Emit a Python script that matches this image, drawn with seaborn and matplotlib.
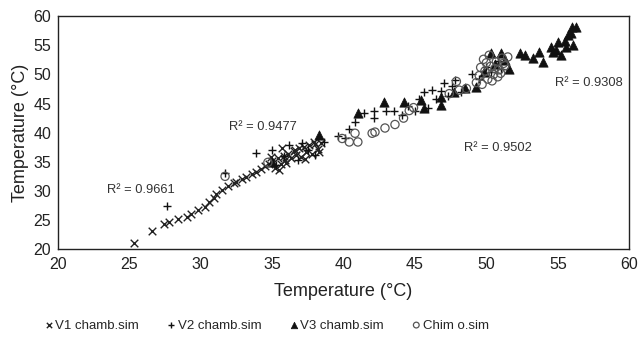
import numpy as np
import pandas as pd
import matplotlib
matplotlib.use("Agg")
import matplotlib.pyplot as plt
import seaborn as sns

# ==========================================
# データ (読み取り値)
# ==========================================
v1_x = [25.3, 26.6, 27.4, 27.8, 28.4, 29.0, 29.3, 29.8, 30.3, 30.6, 30.9, 31.1,
        31.5, 31.9, 32.3, 32.5, 32.9, 33.2, 33.6, 33.9, 34.2, 34.5, 34.8, 35.0,
        35.2, 35.4, 35.6, 35.8, 35.9, 36.1, 36.3, 36.5, 36.7, 36.9, 37.0, 37.2,
        37.4, 37.6, 37.8, 38.0, 38.2, 38.4, 35.5, 36.0, 36.6, 37.3, 37.9, 38.3,
        34.9, 35.7]
v1_y = [21.0, 23.1, 24.3, 24.7, 25.1, 25.6, 26.0, 26.7, 27.3, 28.1, 28.7, 29.5,
        30.1, 30.8, 31.3, 31.6, 32.0, 32.4, 32.9, 33.3, 33.8, 34.3, 34.7, 35.2,
        34.0, 35.7, 34.6, 36.0, 35.3, 36.4, 35.6, 36.9, 36.2, 37.3, 35.8, 37.6,
        36.7, 37.9, 36.3, 38.0, 37.2, 38.3, 33.6, 34.8, 37.0, 35.4, 38.4, 36.6,
        35.9, 37.4]

v2_x = [27.6, 31.7, 33.9, 35.0, 35.3, 35.8, 36.2, 36.8, 37.1, 37.5, 38.0, 38.6,
        39.6, 40.1, 40.4, 40.8, 41.4, 42.1, 42.1, 43.0, 43.5, 44.1, 44.5, 45.0,
        45.3, 45.6, 45.9, 46.2, 46.5, 46.8, 47.0, 47.3, 47.6, 47.8, 48.2, 49.0,
        49.5, 50.0, 50.3, 50.8, 51.0]
v2_y = [27.4, 33.0, 36.5, 37.0, 34.4, 36.0, 37.8, 35.3, 38.2, 37.0, 36.2, 38.4,
        39.5, 39.0, 40.6, 41.8, 43.3, 43.8, 42.6, 43.8, 43.8, 43.0, 44.6, 43.8,
        45.7, 46.9, 44.3, 47.4, 45.8, 47.2, 48.5, 46.3, 48.1, 49.0, 47.0, 50.1,
        49.3, 51.2, 50.4, 52.3, 51.0]

v3_x = [35.0, 38.3, 41.0, 42.8, 44.2, 45.4, 45.6, 46.8, 46.8, 47.7, 48.5, 49.3,
        49.8, 50.3, 50.6, 51.0, 51.3, 51.6, 52.35, 52.7, 53.3, 53.7, 54.0, 54.5,
        54.7, 55.2, 55.0, 55.5, 55.7, 56.0, 56.3, 55.6, 56.1, 55.9, 54.9]
v3_y = [34.9, 39.6, 43.3, 45.2, 45.2, 45.6, 44.2, 44.7, 46.1, 46.9, 47.6, 47.8,
        50.5, 53.6, 51.8, 53.6, 52.4, 51.0, 53.6, 53.4, 52.8, 53.8, 52.2, 54.7,
        53.8, 53.3, 55.5, 55.8, 56.7, 58.1, 58.1, 54.7, 55.0, 57.2, 54.2]

chim_x = [31.7, 34.7, 39.9, 40.4, 41.0, 40.8, 42.0, 42.2, 42.9, 43.6, 44.2,
          44.6, 44.9, 47.4, 47.9, 48.1, 48.6, 49.3, 49.5, 49.7, 49.9, 50.1, 50.3,
          50.5, 50.7, 50.9, 51.1, 51.3, 51.5, 49.6, 50.0, 50.4, 50.8, 51.2, 49.8,
          50.2, 50.6, 51.0]
chim_y = [32.5, 34.9, 39.0, 38.4, 38.4, 39.9, 39.9, 40.1, 40.8, 41.4, 42.5,
          43.8, 44.3, 46.7, 48.8, 47.3, 47.6, 48.6, 49.8, 48.3, 50.6, 49.2, 51.4,
          50.0, 52.2, 50.8, 52.8, 51.5, 53.0, 51.2, 52.0, 48.9, 49.6, 51.9, 52.6,
          53.3, 51.0, 50.2]

r2_labels = ["R² = 0.9661", "R² = 0.9477", "R² = 0.9502", "R² = 0.9308"]
r2_pos = [(23.4, 30.1), (32.0, 40.9), (48.4, 37.3), (54.8, 48.5)]

# ==========================================
# 描画
# ==========================================
sns.set_style("white")
plt.rcParams['font.family'] = ['Liberation Sans', 'DejaVu Sans']

fig = plt.figure(figsize=(6.41, 3.38), dpi=100)
ax = fig.add_axes([0.0905, 0.263, 0.891, 0.689])

sns.scatterplot(x=v1_x, y=v1_y, marker='x', s=30, color='#222222',
                linewidth=1.0, ax=ax, label='V1 chamb.sim')
sns.scatterplot(x=v2_x, y=v2_y, marker='+', s=40, color='#111111',
                linewidth=1.0, ax=ax, label='V2 chamb.sim')
sns.scatterplot(x=v3_x, y=v3_y, marker='^', s=45, color='#111111',
                edgecolor='#111111', linewidth=0.5, ax=ax, label='V3 chamb.sim')
sns.scatterplot(x=chim_x, y=chim_y, marker='o', s=35, facecolor='none',
                edgecolor='#555555', linewidth=0.9, ax=ax, label='Chim o.sim')

for txt, (tx, ty) in zip(r2_labels, r2_pos):
    ax.text(tx, ty, txt, fontsize=9.3, color='#333333', va='center', ha='left')

ax.set_xlim(20, 60)
ax.set_ylim(20, 60)
ax.set_xticks(range(20, 61, 5))
ax.set_yticks(range(20, 61, 5))
ax.tick_params(length=0, labelsize=11.5, colors='#222222')
ax.tick_params(axis='x', pad=6)
ax.tick_params(axis='y', pad=5)
ax.set_xlabel("Temperature (°C)", fontsize=13, color='#222222', labelpad=7.5)
ax.set_ylabel("Temperature (°C)", fontsize=13, color='#222222', labelpad=3)
for sp in ax.spines.values():
    sp.set_color('#222222')
    sp.set_linewidth(1.0)

handles, labels = ax.get_legend_handles_labels()
ax.get_legend().remove()
fig.legend(handles, labels, loc='lower left', ncol=4, frameon=False,
           fontsize=9.5, bbox_to_anchor=(0.052, -0.016), columnspacing=2.2,
           handlelength=0.5, handletextpad=0.25, markerscale=0.7)

fig.savefig("out.png", dpi=100)
